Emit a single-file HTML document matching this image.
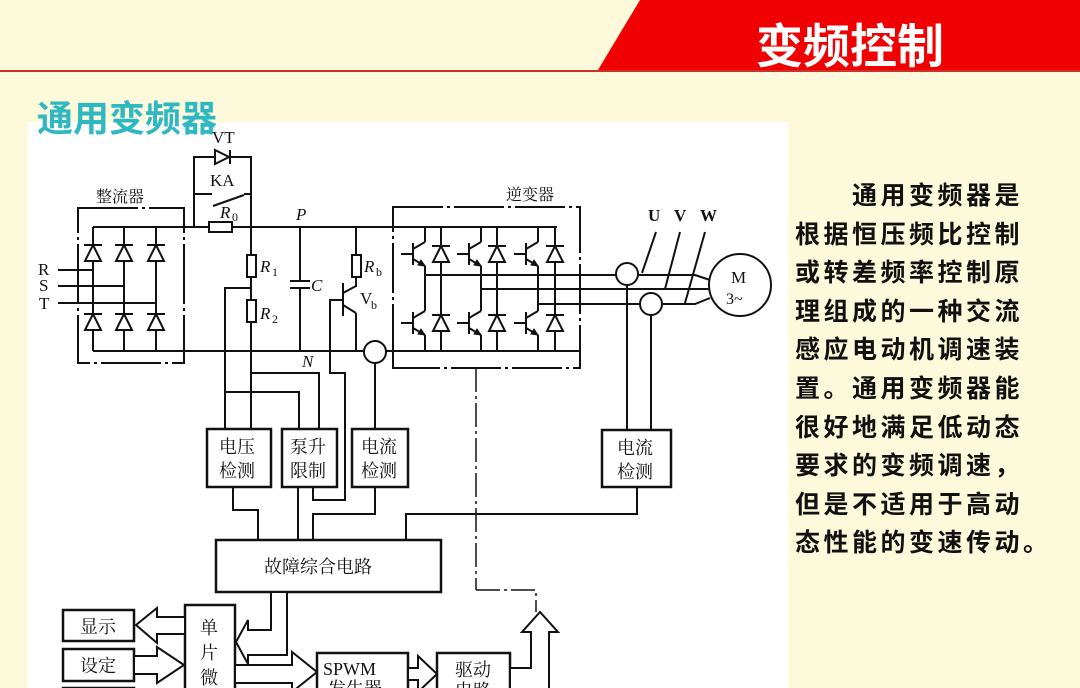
<!DOCTYPE html>
<html><head><meta charset="utf-8"><style>
html,body{margin:0;padding:0;}
body{width:1080px;height:688px;overflow:hidden;background:#fdfadb;position:relative;font-family:"Liberation Sans","Noto Sans CJK SC",sans-serif;}
.hdr{position:absolute;left:0;top:0;width:1080px;height:72px;}
.title{position:absolute;left:756px;top:8px;color:#fff;font-size:47px;font-weight:bold;font-family:"Noto Sans CJK SC","WenQuanYi Zen Hei",sans-serif;letter-spacing:0px;}
.sub{position:absolute;left:37px;top:90px;color:#2fb7c2;font-size:36px;font-weight:bold;font-family:"Noto Sans CJK SC",sans-serif;}
.txt{position:absolute;left:795px;top:175px;width:290px;font-size:25px;line-height:38.6px;color:#111;font-family:"Noto Sans CJK SC",sans-serif;font-weight:bold;letter-spacing:3.5px;}
svg{position:absolute;left:0;top:0;}
</style></head><body>
<svg class="hdr" width="1080" height="80">
<polygon points="640,0 1080,0 1080,70 598,70" fill="#f00000"/>
<rect x="0" y="70" width="1080" height="3" fill="#c8342a"/>
</svg>
<div class="title">变频控制</div>
<svg width="1080" height="688" style="z-index:0">
<rect x="28" y="122" width="760" height="566" fill="#ffffff"/>
</svg>
<div class="sub">通用变频器</div>
<div class="txt">&#12288;&#12288;通用变频器是<br>根据恒压频比控制<br>或转差频率控制原<br>理组成的一种交流<br>感应电动机调速装<br>置。通用变频器能<br>很好地满足低动态<br>要求的变频调速，<br>但是不适用于高动<br>态性能的变速传动。</div>
<svg width="1080" height="688" stroke="#111" stroke-width="2" fill="none" font-family="Liberation Serif, Noto Serif CJK SC, serif">
<defs>
<g id="d"><line x1="-9" y1="-8" x2="9" y2="-8"/><polygon points="-8,8 8,8 0,-8" fill="#fff"/></g>
<g id="t"><line x1="-12" y1="-11" x2="-12" y2="11"/><line x1="-24" y1="0" x2="-12" y2="0"/><line x1="-12" y1="-5" x2="0" y2="-12"/><line x1="-12" y1="5" x2="0" y2="12"/><polygon points="0,12 -7,11 -4,6" fill="#111" stroke-width="1"/></g>
</defs>
<rect x="78" y="208" width="106" height="155" stroke-dasharray="60,4,3,4"/>
<line x1="93" y1="227" x2="395" y2="227"/>
<line x1="93" y1="351" x2="580" y2="351"/>
<g>
<line x1="93" y1="227" x2="93" y2="351"/><line x1="124" y1="227" x2="124" y2="351"/><line x1="156" y1="227" x2="156" y2="351"/>
<use href="#d" x="93" y="253"/><use href="#d" x="124" y="253"/><use href="#d" x="156" y="253"/>
<use href="#d" x="93" y="322"/><use href="#d" x="124" y="322"/><use href="#d" x="156" y="322"/>
</g>
<line x1="58" y1="270" x2="93" y2="270"/><line x1="58" y1="286" x2="124" y2="286"/><line x1="58" y1="303" x2="156" y2="303"/>
<g stroke="none" fill="#111" font-size="17"><text x="38" y="275">R</text><text x="39" y="291">S</text><text x="39" y="309">T</text>
<text x="96" y="202" font-size="16" font-family="Noto Serif CJK SC,serif">整流器</text>
<text x="506" y="200" font-size="16" font-family="Noto Serif CJK SC,serif">逆变器</text></g>
<polyline points="194,227 194,157 251,157 251,227"/>
<polygon points="215,150 215,164 229,157" fill="#fff"/><line x1="230" y1="150" x2="230" y2="164"/>
<line x1="194" y1="194" x2="212" y2="194"/><line x1="213" y1="206" x2="244" y2="195"/><line x1="244" y1="194" x2="251" y2="194"/>
<rect x="209" y="222" width="23" height="10" fill="#fff"/>
<g stroke="none" fill="#111" font-size="17"><text x="212" y="143">VT</text><text x="210" y="186">KA</text>
<text x="220" y="218" font-style="italic">R</text><text x="232" y="221" font-size="12">0</text>
<text x="296" y="220" font-style="italic">P</text><text x="302" y="367" font-style="italic">N</text>
<text x="260" y="272" font-style="italic">R</text><text x="272" y="276" font-size="12">1</text>
<text x="260" y="319" font-style="italic">R</text><text x="272" y="323" font-size="12">2</text>
<text x="311" y="291" font-style="italic">C</text>
<text x="364" y="272" font-style="italic">R</text><text x="376" y="276" font-size="12">b</text>
<text x="360" y="304">V</text><text x="371" y="309" font-size="12">b</text></g>
<line x1="251" y1="227" x2="251" y2="429"/>
<rect x="247" y="255" width="9" height="22" fill="#fff"/><rect x="247" y="300" width="9" height="22" fill="#fff"/>
<polyline points="251,288 225,288 225,429"/>
<line x1="300" y1="227" x2="300" y2="281"/><line x1="300" y1="288" x2="300" y2="351"/>
<line x1="290" y1="281" x2="310" y2="281"/><line x1="290" y1="288" x2="310" y2="288"/>
<line x1="356" y1="227" x2="356" y2="287"/><rect x="352" y="255" width="9" height="22" fill="#fff"/>
<line x1="343" y1="283" x2="343" y2="316"/><line x1="343" y1="293" x2="356" y2="286"/><line x1="343" y1="305" x2="356" y2="313"/><line x1="356" y1="313" x2="356" y2="351"/>
<polyline points="343,300 330,300 330,373 345,373 345,500 313,500 313,487"/>
<circle cx="375" cy="352" r="11" fill="#fff"/><line x1="375" y1="363" x2="375" y2="429"/>
<polyline points="252,373 319,373 319,429"/><polyline points="225,392 299,392 299,429"/>
<rect x="393" y="207" width="187" height="161" stroke-dasharray="50,4,3,4"/>
<line x1="395" y1="227" x2="557" y2="227"/>
<g>
<line x1="425" y1="227" x2="425" y2="242"/><line x1="425" y1="266" x2="425" y2="311"/><line x1="425" y1="335" x2="425" y2="351"/>
<line x1="481" y1="227" x2="481" y2="242"/><line x1="481" y1="266" x2="481" y2="311"/><line x1="481" y1="335" x2="481" y2="351"/>
<line x1="538" y1="227" x2="538" y2="242"/><line x1="538" y1="266" x2="538" y2="311"/><line x1="538" y1="335" x2="538" y2="351"/>
<use href="#t" x="425" y="254"/><use href="#t" x="481" y="254"/><use href="#t" x="538" y="254"/>
<use href="#t" x="425" y="323"/><use href="#t" x="481" y="323"/><use href="#t" x="538" y="323"/>
<line x1="441" y1="227" x2="441" y2="351"/><line x1="497" y1="227" x2="497" y2="351"/><line x1="555" y1="227" x2="555" y2="351"/>
<use href="#d" x="441" y="254"/><use href="#d" x="497" y="254"/><use href="#d" x="555" y="254"/>
<use href="#d" x="441" y="323"/><use href="#d" x="497" y="323"/><use href="#d" x="555" y="323"/>
</g>
<polyline points="425,275 695,275 710,280"/><line x1="481" y1="289" x2="710" y2="289"/><polyline points="538,304 695,304 710,298"/>
<circle cx="627" cy="274" r="11" fill="#fff"/><circle cx="651" cy="304" r="11" fill="#fff"/>
<circle cx="740" cy="285" r="31" fill="#fff"/>
<line x1="656" y1="232" x2="642" y2="273"/><line x1="680" y1="232" x2="665" y2="289"/><line x1="705" y1="232" x2="685" y2="303"/>
<g stroke="none" fill="#111"><text x="648" y="221" font-size="17" font-weight="bold">U</text><text x="674" y="221" font-size="17" font-weight="bold">V</text><text x="700" y="221" font-size="17" font-weight="bold">W</text>
<text x="731" y="283" font-size="17">M</text><text x="726" y="304" font-size="16">3~</text></g>
<line x1="627" y1="285" x2="627" y2="430"/><line x1="651" y1="315" x2="651" y2="430"/>
<polyline points="393,352 393,368"/>
<line x1="476" y1="368" x2="476" y2="590" stroke-width="1.5" stroke-dasharray="24,4,3,4"/>
<polyline points="476,590 536,590 536,612" stroke-width="1.5" stroke-dasharray="24,4,3,4"/>
<g stroke-width="2.5" fill="#fff"><rect x="207" y="429" width="64" height="58"/><rect x="282" y="429" width="55" height="58"/><rect x="352" y="429" width="56" height="58"/><rect x="602" y="430" width="69" height="57"/>
<rect x="216" y="540" width="225" height="52"/><rect x="63" y="610" width="71" height="31"/><rect x="63" y="649" width="71" height="32"/><rect x="63" y="688" width="71" height="10"/>
<rect x="185" y="605" width="50" height="90"/><rect x="317" y="653" width="91" height="45"/><rect x="437" y="653" width="73" height="45"/></g>
<g stroke="none" fill="#111" font-size="18" font-family="Noto Serif CJK SC,serif">
<text x="219" y="453">电压</text><text x="219" y="477">检测</text>
<text x="290" y="453">泵升</text><text x="290" y="477">限制</text>
<text x="361" y="453">电流</text><text x="361" y="477">检测</text>
<text x="617" y="454">电流</text><text x="617" y="478">检测</text>
<text x="264" y="573">故障综合电路</text>
<text x="80" y="633">显示</text><text x="80" y="672">设定</text>
<text x="200" y="634">单</text><text x="200" y="659">片</text><text x="200" y="684">微</text>
<text x="323" y="675" font-family="Liberation Serif,serif">SPWM</text><text x="328" y="695">发生器</text>
<text x="455" y="676">驱动</text><text x="455" y="697">电路</text></g>
<polyline points="233,487 233,510 258,510 258,540"/><line x1="298" y1="487" x2="298" y2="540"/>
<polyline points="375,487 375,514 313,514 313,540"/><polyline points="637,487 637,514 406,514 406,540"/>
<g fill="#fff" stroke-width="2">
<polygon points="185,617 157,617 157,608 136,625 157,643 157,634 185,634"/>
<polygon points="134,656 157,656 157,647 184,665 157,683 157,674 134,674"/>
<polygon points="271,592 271,630 248,630 248,620 236,642 248,664 248,655 287,655 287,592"/>
<polygon points="235,665 292,665 292,652 317,672 292,692 292,683 235,683"/>
<polygon points="408,668 418,668 418,656 437,674 418,692 418,680 408,680"/>
<polygon points="510,668 531,668 531,632 522,632 540,612 558,632 549,632 549,700 510,700"/>
</g>
</svg>
</body></html>
